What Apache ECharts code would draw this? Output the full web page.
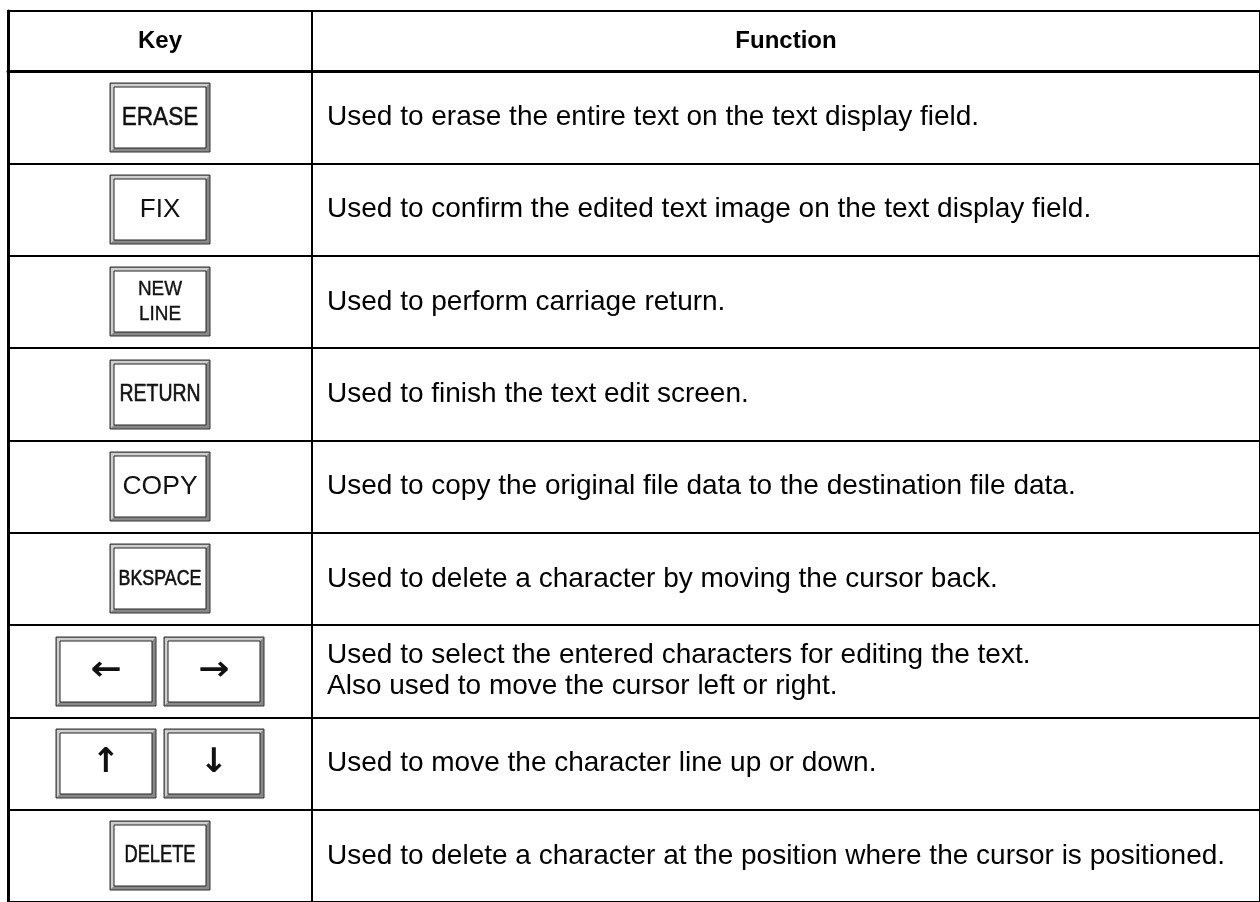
<!DOCTYPE html>
<html>
<head>
<meta charset="utf-8">
<script src="https://cdn.jsdelivr.net/npm/echarts@6/dist/echarts.min.js"></script>
<style>
html,body{margin:0;padding:0;background:#fff;}
#chart{width:1260px;height:902px;}
</style>
</head>
<body>
<div id="chart"></div>
<script>
// ---- data ----
const headers = ['Key', 'Function'];
const keyCaps = [
  ['ERASE'],
  ['FIX'],
  ['NEW\nLINE'],
  ['RETURN'],
  ['COPY'],
  ['BKSPACE'],
  ['\u2190', '\u2192'],
  ['\u2191', '\u2193'],
  ['DELETE']
];
const functionTexts = [
  'Used to erase the entire text on the text display field.',
  'Used to confirm the edited text image on the text display field.',
  'Used to perform carriage return.',
  'Used to finish the text edit screen.',
  'Used to copy the original file data to the destination file data.',
  'Used to delete a character by moving the cursor back.',
  'Used to select the entered characters for editing the text.\nAlso used to move the cursor left or right.',
  'Used to move the character line up or down.',
  'Used to delete a character at the position where the cursor is positioned.'
];
const rowIds = keyCaps.map(function (k) { return k.join(' '); });

// ---- styles (not data) ----
const FONT = '"Liberation Sans", Arial, Helvetica, sans-serif';
const ARROW_FONT = '"DejaVu Sans", "Liberation Sans", sans-serif';
const capStyle = {
  'ERASE': { size: 26, sx: 0.87, bold: 0.5 },
  'FIX': { size: 26, sx: 1 },
  'NEW\nLINE': { size: 21, sx: 0.9, lh: 25, bold: 0.4 },
  'RETURN': { size: 24, sx: 0.81, bold: 0.6 },
  'COPY': { size: 26.5, sx: 1 },
  'BKSPACE': { size: 22, sx: 0.81, bold: 0.6 },
  '\u2190': { size: 34, sx: 1.1, weight: 'bold', font: ARROW_FONT },
  '\u2192': { size: 34, sx: 1.1, weight: 'bold', font: ARROW_FONT },
  '\u2191': { size: 34, sx: 1, weight: 'bold', font: ARROW_FONT },
  '\u2193': { size: 34, sx: 1, weight: 'bold', font: ARROW_FONT },
  'DELETE': { size: 24, sx: 0.76, bold: 0.6 }
};

function button(x, y, w, h) {
  const f = 4;
  return [
    { type: 'rect', shape: { x: x, y: y, width: w, height: h },
      style: { fill: '#888888', stroke: '#333333', lineWidth: 1 } },
    { type: 'polygon', shape: { points: [[x + 1, y + 1], [x + w - 1, y + 1], [x + w - f, y + f], [x + f, y + f], [x + f, y + h - f], [x + 1, y + h - 1]] },
      style: { fill: '#cfcfcf' } },
    { type: 'rect', shape: { x: x + f, y: y + f, width: w - 2 * f, height: h - 2 * f },
      style: { fill: '#ffffff', stroke: '#222222', lineWidth: 1 } }
  ];
}

function renderKey(params, api) {
  const i = api.value(1);
  const c = api.coord([0, i]);
  const caps = keyCaps[i];
  const bw = 100, bh = 69, gap = 8;
  const total = caps.length * bw + (caps.length - 1) * gap;
  const children = [];
  caps.forEach(function (cap, j) {
    const x0 = Math.round(c[0] - total / 2 + j * (bw + gap));
    const y0 = Math.round(c[1] - bh / 2);
    button(x0, y0, bw, bh).forEach(function (e) { children.push(e); });
    const st = capStyle[cap] || { size: 24, sx: 1 };
    const style = {
      text: cap, x: 0, y: 0,
      align: 'center', verticalAlign: 'middle',
      fontFamily: st.font || FONT, fontSize: st.size, fontWeight: st.weight || 'normal',
      lineHeight: st.lh || st.size * 1.1,
      fill: '#111111'
    };
    if (st.bold) { style.stroke = '#111111'; style.lineWidth = st.bold; }
    children.push({
      type: 'text',
      x: x0 + bw / 2,
      y: y0 + bh / 2,
      scaleX: st.sx,
      style: style
    });
  });
  return { type: 'group', children: children };
}

function renderFunc(params, api) {
  const i = api.value(1);
  const c = api.coord([0, i]);
  const half = api.size([1, 0])[0] / 2;
  return {
    type: 'text',
    x: c[0] - half + 15,
    y: c[1],
    style: {
      text: functionTexts[i], x: 0, y: 0,
      align: 'left', verticalAlign: 'middle',
      fontFamily: FONT, fontSize: 28, lineHeight: 31,
      fill: '#000'
    }
  };
}

const chart = echarts.init(document.getElementById('chart'), null, { renderer: 'canvas' });
const border = { show: true, borderColor: '#000', borderWidth: 2, backgroundColor: 'transparent' };
const hiddenCat = { type: 'category', data: [''], show: false };

const option = {
  backgroundColor: '#ffffff',
  animation: false,
  grid: [
    Object.assign({ left: 8, top: 11, width: 304, height: 60 }, border),
    Object.assign({ left: 312, top: 11, right: -10, height: 60 }, border),
    Object.assign({ left: 8, top: 71, width: 304, height: 838 }, border),
    Object.assign({ left: 312, top: 71, right: -10, height: 838 }, border)
  ],
  xAxis: [0, 1].map(function (g) {
    return {
      type: 'category', gridIndex: g, position: 'top', data: [headers[g]],
      axisLine: { show: true, lineStyle: { color: '#000', width: 3 } },
      axisTick: { show: false },
      splitLine: { show: false },
      axisLabel: {
        inside: true, margin: 30, verticalAlign: 'middle',
        fontFamily: FONT, fontSize: 24, fontWeight: 'bold', color: '#000'
      }
    };
  }).concat([
    Object.assign({ gridIndex: 2 }, hiddenCat),
    Object.assign({ gridIndex: 3 }, hiddenCat)
  ]),
  yAxis: [
    { type: 'value', gridIndex: 0, min: 0, max: 1,
      axisLine: { show: true, lineStyle: { color: '#000', width: 3 } },
      axisLabel: { show: false }, axisTick: { show: false }, splitLine: { show: false } },
    { type: 'value', gridIndex: 1, min: 0, max: 1, show: false },
    { type: 'category', gridIndex: 2, data: rowIds, inverse: true,
      axisLine: { show: true, lineStyle: { color: '#000', width: 3 } },
      axisLabel: { show: false }, axisTick: { show: false },
      splitLine: { show: true, interval: 0, lineStyle: { color: '#000', width: 2 } } },
    { type: 'category', gridIndex: 3, data: rowIds, inverse: true,
      axisLine: { show: false },
      axisLabel: { show: false }, axisTick: { show: false },
      splitLine: { show: true, interval: 0, lineStyle: { color: '#000', width: 2 } } }
  ],
  series: [
    { type: 'custom', xAxisIndex: 2, yAxisIndex: 2, renderItem: renderKey,
      data: keyCaps.map(function (k, i) { return [0, i]; }), silent: true },
    { type: 'custom', xAxisIndex: 3, yAxisIndex: 3, renderItem: renderFunc,
      data: functionTexts.map(function (t, i) { return [0, i]; }), silent: true }
  ]
};
chart.setOption(option);
</script>
</body>
</html>
